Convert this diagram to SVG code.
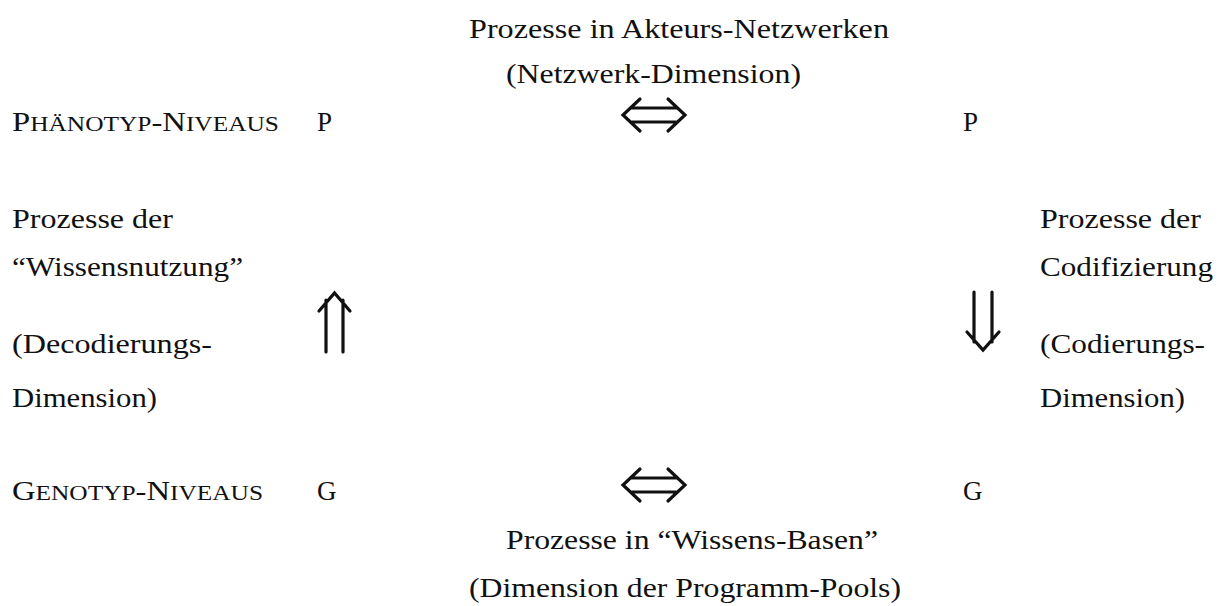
<svg xmlns="http://www.w3.org/2000/svg" width="1231" height="606" viewBox="0 0 1231 606">
<style>
text{font-family:"Liberation Serif","Times New Roman",serif;font-size:27px;fill:#111}
.sc{font-size:21px}
.arr{fill:none;stroke:#111;stroke-width:3.2;stroke-linecap:round;stroke-linejoin:miter}
</style>
<rect width="1231" height="606" fill="#fff"/>
<g id="top-label"><text x="469" y="38" textLength="420" lengthAdjust="spacingAndGlyphs">Prozesse in Akteurs-Netzwerken</text><text x="506" y="83" textLength="295" lengthAdjust="spacingAndGlyphs">(Netzwerk-Dimension)</text></g>
<g id="phaenotyp-label"><text x="12" y="131" textLength="267" lengthAdjust="spacingAndGlyphs">P<tspan class="sc">HÄNOTYP</tspan>-N<tspan class="sc">IVEAUS</tspan></text></g>
<g id="P-left"><text x="317" y="131">P</text></g>
<g id="P-right"><text x="963" y="131">P</text></g>
<g id="left-label"><text x="12" y="228" textLength="161" lengthAdjust="spacingAndGlyphs">Prozesse der</text><text x="12" y="276" textLength="231" lengthAdjust="spacingAndGlyphs">“Wissensnutzung”</text><text x="12" y="353" textLength="200" lengthAdjust="spacingAndGlyphs">(Decodierungs-</text><text x="12" y="407" textLength="145" lengthAdjust="spacingAndGlyphs">Dimension)</text></g>
<g id="right-label"><text x="1040" y="228" textLength="161" lengthAdjust="spacingAndGlyphs">Prozesse der</text><text x="1040" y="276" textLength="173" lengthAdjust="spacingAndGlyphs">Codifizierung</text><text x="1040" y="353" textLength="165" lengthAdjust="spacingAndGlyphs">(Codierungs-</text><text x="1040" y="407" textLength="145" lengthAdjust="spacingAndGlyphs">Dimension)</text></g>
<g id="genotyp-label"><text x="12" y="500" textLength="251" lengthAdjust="spacingAndGlyphs">G<tspan class="sc">ENOTYP</tspan>-N<tspan class="sc">IVEAUS</tspan></text></g>
<g id="G-left"><text x="317" y="500">G</text></g>
<g id="G-right"><text x="963" y="500">G</text></g>
<g id="bottom-label"><text x="506" y="549" textLength="372" lengthAdjust="spacingAndGlyphs">Prozesse in “Wissens-Basen”</text><text x="469" y="597" textLength="432" lengthAdjust="spacingAndGlyphs">(Dimension der Programm-Pools)</text></g>
<g id="connectors">
<g class="arr">
<path d="M632 108H676M632 122H676M640 99L623 115L640 131M668 99L685 115L668 131"/>
<path d="M632 478H676M632 492H676M640 469L623 485L640 501M668 469L685 485L668 501"/>
<path d="M326 300V352M343 300V352M319 311L334.5 293L350 311"/>
<path d="M974 292V342M992 292V342M967 332L983 350L999 332"/>
</g>
</g>
</svg>
